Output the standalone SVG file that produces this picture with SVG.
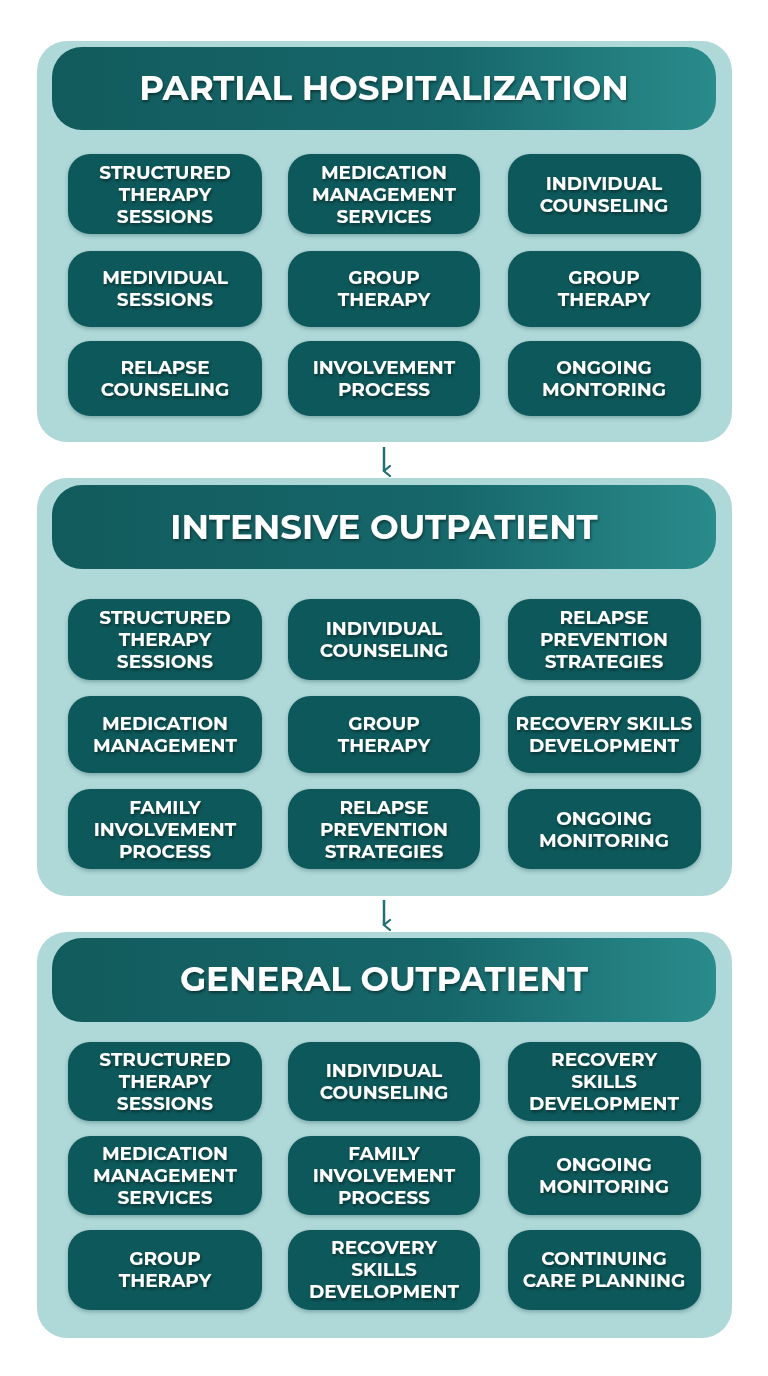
<svg xmlns="http://www.w3.org/2000/svg" width="768" height="1376" viewBox="0 0 768 1376">
<defs>
<linearGradient id="hg" x1="0" y1="0" x2="1" y2="0"><stop offset="0" stop-color="#125b5d"/><stop offset="0.6" stop-color="#16676a"/><stop offset="1" stop-color="#2a8b8b"/></linearGradient>
<filter id="ts" x="-10%" y="-30%" width="120%" height="160%"><feDropShadow dx="1" dy="2" stdDeviation="1.5" flood-color="#000" flood-opacity="0.45"/></filter>
<filter id="bs" x="-10%" y="-20%" width="120%" height="140%"><feDropShadow dx="0" dy="2" stdDeviation="2" flood-color="#0a3b3c" flood-opacity="0.3"/></filter>
<marker id="ah" viewBox="0 0 12 12" refX="6" refY="10" markerWidth="12" markerHeight="12" markerUnits="userSpaceOnUse" orient="auto-start-reverse"><path d="M1,4 L6,10 L11,4" fill="none" stroke="#1f7072" stroke-width="2.2" stroke-linecap="round"/></marker>
</defs>
<style>
.outer{fill:#afd9d8}
.hdr{fill:url(#hg)}
.cell{fill:#11585a;filter:url(#bs)}
text{font-family:"Montserrat","Noto Sans","Open Sans",sans-serif;font-weight:700;fill:#fff;text-anchor:middle;filter:url(#ts)}
.ht{font-size:34px}
.ct{font-size:18.5px}
.con{stroke:#1f7072;stroke-width:2.5;fill:none}
</style>
<rect width="768" height="1376" fill="#fff"/>
<g id="connectors">
<line class="con" x1="384" y1="447" x2="384" y2="471" marker-end="url(#ah)"/>
<line class="con" x1="384" y1="900" x2="384" y2="925" marker-end="url(#ah)"/>
</g>
<g id="partial">
<rect class="outer" x="37" y="41" width="695" height="401" rx="30"/>
<rect class="hdr" x="52" y="47" width="664" height="83" rx="30"/>
<text class="ht" x="384" y="100">PARTIAL HOSPITALIZATION</text>
</g>
<g id="p1"><rect class="cell" x="68" y="154" width="194" height="80" rx="22"/><text class="ct" x="165" y="179">STRUCTURED</text><text class="ct" x="165" y="201">THERAPY</text><text class="ct" x="165" y="223">SESSIONS</text></g>
<g id="p2"><rect class="cell" x="288" y="154" width="192" height="80" rx="22"/><text class="ct" x="384" y="179">MEDICATION</text><text class="ct" x="384" y="201">MANAGEMENT</text><text class="ct" x="384" y="223">SERVICES</text></g>
<g id="p3"><rect class="cell" x="508" y="154" width="193" height="80" rx="22"/><text class="ct" x="604" y="190">INDIVIDUAL</text><text class="ct" x="604" y="212">COUNSELING</text></g>
<g id="p4"><rect class="cell" x="68" y="251" width="194" height="76" rx="22"/><text class="ct" x="165" y="284">MEDIVIDUAL</text><text class="ct" x="165" y="306">SESSIONS</text></g>
<g id="p5"><rect class="cell" x="288" y="251" width="192" height="76" rx="22"/><text class="ct" x="384" y="284">GROUP</text><text class="ct" x="384" y="306">THERAPY</text></g>
<g id="p6"><rect class="cell" x="508" y="251" width="193" height="76" rx="22"/><text class="ct" x="604" y="284">GROUP</text><text class="ct" x="604" y="306">THERAPY</text></g>
<g id="p7"><rect class="cell" x="68" y="341" width="194" height="75" rx="22"/><text class="ct" x="165" y="374">RELAPSE</text><text class="ct" x="165" y="396">COUNSELING</text></g>
<g id="p8"><rect class="cell" x="288" y="341" width="192" height="75" rx="22"/><text class="ct" x="384" y="374">INVOLVEMENT</text><text class="ct" x="384" y="396">PROCESS</text></g>
<g id="p9"><rect class="cell" x="508" y="341" width="193" height="75" rx="22"/><text class="ct" x="604" y="374">ONGOING</text><text class="ct" x="604" y="396">MONTORING</text></g>

<g id="intensive">
<rect class="outer" x="37" y="478" width="695" height="418" rx="30"/>
<rect class="hdr" x="52" y="485" width="664" height="84" rx="30"/>
<text class="ht" x="384" y="539">INTENSIVE OUTPATIENT</text>
</g>
<g id="i1"><rect class="cell" x="68" y="599" width="194" height="81" rx="22"/><text class="ct" x="165" y="624">STRUCTURED</text><text class="ct" x="165" y="646">THERAPY</text><text class="ct" x="165" y="668">SESSIONS</text></g>
<g id="i2"><rect class="cell" x="288" y="599" width="192" height="81" rx="22"/><text class="ct" x="384" y="635">INDIVIDUAL</text><text class="ct" x="384" y="657">COUNSELING</text></g>
<g id="i3"><rect class="cell" x="508" y="599" width="193" height="81" rx="22"/><text class="ct" x="604" y="624">RELAPSE</text><text class="ct" x="604" y="646">PREVENTION</text><text class="ct" x="604" y="668">STRATEGIES</text></g>
<g id="i4"><rect class="cell" x="68" y="696" width="194" height="77" rx="22"/><text class="ct" x="165" y="730">MEDICATION</text><text class="ct" x="165" y="752">MANAGEMENT</text></g>
<g id="i5"><rect class="cell" x="288" y="696" width="192" height="77" rx="22"/><text class="ct" x="384" y="730">GROUP</text><text class="ct" x="384" y="752">THERAPY</text></g>
<g id="i6"><rect class="cell" x="508" y="696" width="193" height="77" rx="22"/><text class="ct" x="604" y="730">RECOVERY SKILLS</text><text class="ct" x="604" y="752">DEVELOPMENT</text></g>
<g id="i7"><rect class="cell" x="68" y="789" width="194" height="80" rx="22"/><text class="ct" x="165" y="814">FAMILY</text><text class="ct" x="165" y="836">INVOLVEMENT</text><text class="ct" x="165" y="858">PROCESS</text></g>
<g id="i8"><rect class="cell" x="288" y="789" width="192" height="80" rx="22"/><text class="ct" x="384" y="814">RELAPSE</text><text class="ct" x="384" y="836">PREVENTION</text><text class="ct" x="384" y="858">STRATEGIES</text></g>
<g id="i9"><rect class="cell" x="508" y="789" width="193" height="80" rx="22"/><text class="ct" x="604" y="825">ONGOING</text><text class="ct" x="604" y="847">MONITORING</text></g>

<g id="general">
<rect class="outer" x="37" y="932" width="695" height="406" rx="30"/>
<rect class="hdr" x="52" y="938" width="664" height="84" rx="30"/>
<text class="ht" x="384" y="991">GENERAL OUTPATIENT</text>
</g>
<g id="g1"><rect class="cell" x="68" y="1042" width="194" height="79" rx="22"/><text class="ct" x="165" y="1066">STRUCTURED</text><text class="ct" x="165" y="1088">THERAPY</text><text class="ct" x="165" y="1110">SESSIONS</text></g>
<g id="g2"><rect class="cell" x="288" y="1042" width="192" height="79" rx="22"/><text class="ct" x="384" y="1077">INDIVIDUAL</text><text class="ct" x="384" y="1099">COUNSELING</text></g>
<g id="g3"><rect class="cell" x="508" y="1042" width="193" height="79" rx="22"/><text class="ct" x="604" y="1066">RECOVERY</text><text class="ct" x="604" y="1088">SKILLS</text><text class="ct" x="604" y="1110">DEVELOPMENT</text></g>
<g id="g4"><rect class="cell" x="68" y="1136" width="194" height="79" rx="22"/><text class="ct" x="165" y="1160">MEDICATION</text><text class="ct" x="165" y="1182">MANAGEMENT</text><text class="ct" x="165" y="1204">SERVICES</text></g>
<g id="g5"><rect class="cell" x="288" y="1136" width="192" height="79" rx="22"/><text class="ct" x="384" y="1160">FAMILY</text><text class="ct" x="384" y="1182">INVOLVEMENT</text><text class="ct" x="384" y="1204">PROCESS</text></g>
<g id="g6"><rect class="cell" x="508" y="1136" width="193" height="79" rx="22"/><text class="ct" x="604" y="1171">ONGOING</text><text class="ct" x="604" y="1193">MONITORING</text></g>
<g id="g7"><rect class="cell" x="68" y="1230" width="194" height="80" rx="22"/><text class="ct" x="165" y="1265">GROUP</text><text class="ct" x="165" y="1287">THERAPY</text></g>
<g id="g8"><rect class="cell" x="288" y="1230" width="192" height="80" rx="22"/><text class="ct" x="384" y="1254">RECOVERY</text><text class="ct" x="384" y="1276">SKILLS</text><text class="ct" x="384" y="1298">DEVELOPMENT</text></g>
<g id="g9"><rect class="cell" x="508" y="1230" width="193" height="80" rx="22"/><text class="ct" x="604" y="1265">CONTINUING</text><text class="ct" x="604" y="1287">CARE PLANNING</text></g>
</svg>
